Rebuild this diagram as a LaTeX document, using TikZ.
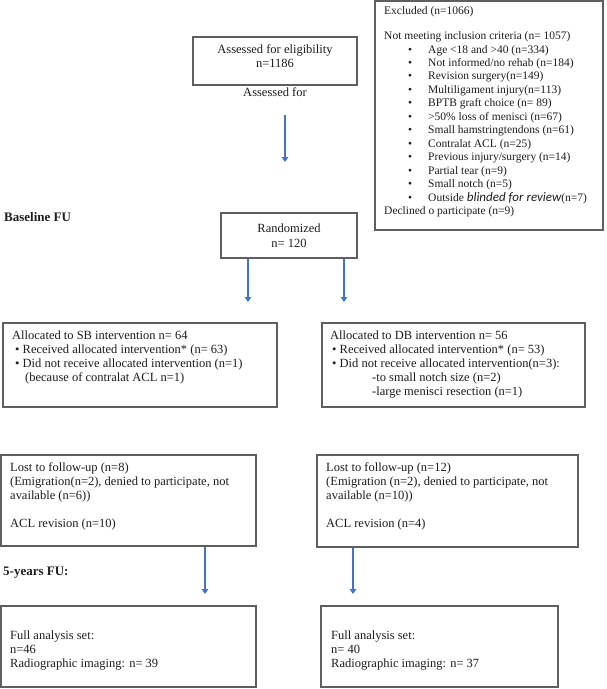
\documentclass[tikz,border=0pt]{standalone}
\usepackage{fontspec}
\setmainfont{Liberation Serif}
\newfontfamily\itsans{Carlito}
\usetikzlibrary{arrows.meta}
\definecolor{arrblue}{RGB}{68,114,196}
\definecolor{boxgray}{RGB}{95,95,95}
\definecolor{txtcol}{RGB}{30,30,30}
\newcommand{\blt}{\hspace*{24pt}\makebox[20pt][l]{\textbullet}}
\begin{document}
\begin{tikzpicture}[x=1pt,y=-1pt,
  box/.style={draw=boxgray, line width=1.2pt, inner sep=0pt, fill=white},
  txt/.style={inner sep=0pt, align=left, anchor=north west, text=txtcol, font=\fontsize{12.5}{14}\selectfont},
  txtc/.style={inner sep=0pt, align=center, text=txtcol, font=\fontsize{12.5}{14.5}\selectfont},
  smalltxt/.style={inner sep=0pt, align=left, anchor=north west, text=txtcol, font=\fontsize{11.5}{13.45}\selectfont},
  arr/.style={draw=arrblue, line width=2.2pt, -{Triangle[width=6.5pt,length=5pt]}},
  hdr/.style={inner sep=0pt, anchor=west, text=txtcol, font=\fontsize{13}{15}\selectfont\bfseries}
]
\useasboundingbox (0,0) rectangle (606,689);

% Assessed
\node[box, minimum width=164pt, minimum height=48pt] (assess) at (275,61) {};
\node[txtc] (assesst) at (275,56) {Assessed for eligibility\\n=1186};
\node[txtc] (assessl) at (275,92) {Assessed for};
\coordinate (a1s) at (285,115);
\coordinate (a1e) at (285,162);
\draw[arr] (a1s) -- (a1e);

% Excluded
\node[box, minimum width=228pt, minimum height=229pt] (excl) at (489,115.5) {};
\node[smalltxt] (exclt) at (384,6.5) {Excluded (n=1066)\\[11.5pt]
Not meeting inclusion criteria (n= 1057)\\
\blt Age <18 and >40 (n=334)\\
\blt Not informed/no rehab (n=184)\\
\blt Revision surgery(n=149)\\
\blt Multiligament injury(n=113)\\
\blt BPTB graft choice (n= 89)\\
\blt >50\% loss of menisci (n=67)\\
\blt Small hamstringtendons (n=61)\\
\blt Contralat ACL (n=25)\\
\blt Previous injury/surgery (n=14)\\
\blt Partial tear (n=9)\\
\blt Small notch (n=5)\\
\blt Outside {\itsans\itshape\fontsize{13}{13.45}\selectfont blinded for review}(n=7)\\
Declined o participate (n=9)};

% Baseline
\node[hdr] (basefu) at (4,217) {Baseline FU};

% Randomized
\node[box, txtc, minimum width=136pt, minimum height=45pt] (rand) at (289,235.5) {Randomized\\n= 120};
\coordinate (a2e) at (248,302);
\coordinate (a3e) at (344,302);
\draw[arr] (rand.south -| a2e) -- (a2e);
\draw[arr] (rand.south -| a3e) -- (a3e);

% Allocation boxes
\node[box, minimum width=274pt, minimum height=84pt] (sb) at (140,365) {};
\node[txt] (sbt) at (12,331) {Allocated to SB intervention n= 64\\
\hspace*{3pt}\textbullet\ Received allocated intervention* (n= 63)\\
\hspace*{3pt}\textbullet\ Did not receive allocated intervention (n=1)\\
\hspace*{13pt}(because of contralat ACL n=1)};

\node[box, minimum width=263pt, minimum height=84pt] (db) at (453.5,365) {};
\node[txt] (dbt) at (330,331) {Allocated to DB intervention n= 56\\
\hspace*{2pt}\textbullet\ Received allocated intervention* (n= 53)\\
\hspace*{2pt}\textbullet\ Did not receive allocated intervention(n=3):\\
\hspace*{42pt}-to small notch size (n=2)\\
\hspace*{42pt}-large menisci resection (n=1)};

% Lost to follow-up
\node[box, minimum width=255pt, minimum height=91pt] (lostsb) at (128.5,500.5) {};
\node[txt] (lostsbt) at (10,462) {Lost to follow-up (n=8)\\
(Emigration(n=2), denied to participate, not\\
available (n=6))\\[14pt]
ACL revision (n=10)};

\node[box, minimum width=261pt, minimum height=92pt] (lostdb) at (447.5,501) {};
\node[txt] (lostdbt) at (326,462) {Lost to follow-up (n=12)\\
(Emigration (n=2), denied to participate, not\\
available (n=10))\\[14pt]
ACL revision (n=4)};

\coordinate (a4e) at (205,594);
\coordinate (a5e) at (353,594);
\draw[arr] (lostsb.south -| a4e) -- (a4e);
\draw[arr] (lostdb.south -| a5e) -- (a5e);

% 5-years
\node[hdr] (fiveyr) at (3,573) {5-years FU:};

% Full analysis
\node[box, minimum width=255pt, minimum height=81pt] (fullsb) at (128.5,646.5) {};
\node[txt] (fullsbt) at (10,631) {Full analysis set:\\
n=46\\
Radiographic imaging: n= 39};

\node[box, minimum width=237pt, minimum height=81pt] (fulldb) at (439.5,646.5) {};
\node[txt] (fulldbt) at (331,631) {Full analysis set:\\
n= 40\\
Radiographic imaging: n= 37};
\end{tikzpicture}
\end{document}
